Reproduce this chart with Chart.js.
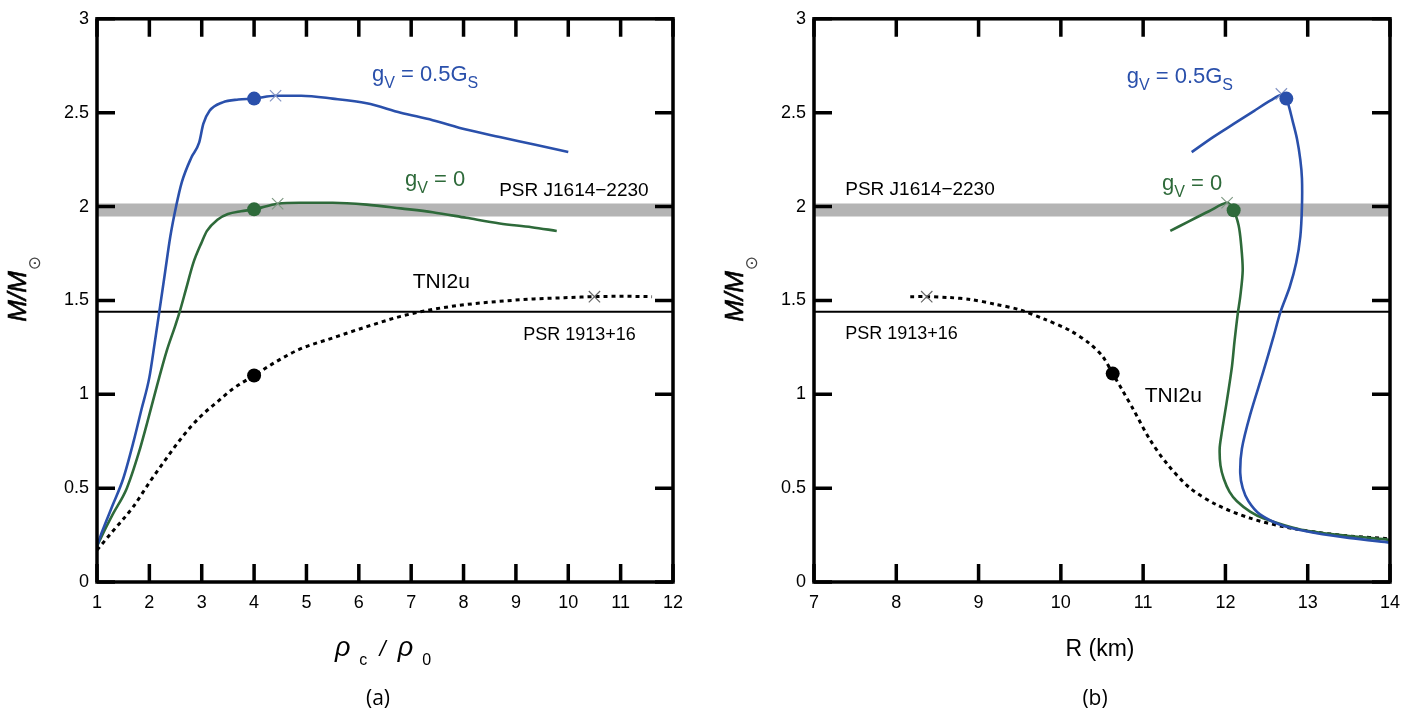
<!DOCTYPE html>
<html>
<head>
<meta charset="utf-8">
<script src="https://cdn.jsdelivr.net/npm/chart.js@4.4.1/dist/chart.umd.min.js"></script>
<style>
  html, body { margin: 0; padding: 0; background: #fff; overflow: hidden; }
  #wrap { position: relative; width: 1428px; height: 714px; }
  canvas { position: absolute; top: 0; }
  #chartA { left: 0; }
  #chartB { left: 717px; }
</style>
</head>
<body>
<div id="wrap">
  <canvas id="chartA" width="711" height="714"></canvas>
  <canvas id="chartB" width="711" height="714"></canvas>
</div>
<script>
// ---- panel (a): M vs central density rho_c / rho_0 ----
const rhoBlue   = [1.0, 1.1, 1.3, 1.5, 1.7, 1.85, 2.0, 2.1, 2.19, 2.3, 2.4, 2.51, 2.62, 2.8, 2.95, 3.03, 3.15, 3.4, 3.7, 4.0, 4.41, 4.9, 5.5, 6.15, 6.8, 7.41, 8.05, 8.69, 9.35, 10.0];
const massBlueA = [0.19, 0.27, 0.41, 0.55, 0.75, 0.92, 1.09, 1.27, 1.44, 1.65, 1.84, 2.0, 2.13, 2.26, 2.34, 2.44, 2.51, 2.555, 2.57, 2.575, 2.59, 2.59, 2.575, 2.55, 2.5, 2.46, 2.41, 2.37, 2.33, 2.29];

const rhoGreen   = [1.0, 1.1, 1.3, 1.57, 1.8, 1.95, 2.15, 2.33, 2.5, 2.58, 2.7, 2.84, 3.0, 3.1, 3.3, 3.5, 3.75, 4.0, 4.45, 4.87, 5.5, 6.15, 6.8, 7.41, 8.05, 8.69, 9.3, 9.78];
const massGreenA = [0.19, 0.25, 0.36, 0.5, 0.69, 0.84, 1.05, 1.23, 1.37, 1.44, 1.56, 1.7, 1.81, 1.87, 1.93, 1.96, 1.975, 1.985, 2.015, 2.02, 2.02, 2.01, 1.99, 1.97, 1.94, 1.91, 1.89, 1.87];

const rhoBlack   = [1.0, 1.3, 1.69, 2.0, 2.33, 2.65, 2.97, 3.3, 3.6, 4.0, 4.4, 4.87, 5.5, 6.15, 6.8, 7.41, 8.05, 8.69, 9.35, 10.0, 10.5, 11.0, 11.6];
const massBlackA = [0.17, 0.27, 0.4, 0.53, 0.66, 0.78, 0.88, 0.96, 1.03, 1.1, 1.17, 1.24, 1.3, 1.36, 1.415, 1.452, 1.478, 1.495, 1.508, 1.515, 1.52, 1.522, 1.52];

// ---- panel (b): M vs radius R (km) ----
const radBlue   = [11.59, 11.85, 12.1, 12.35, 12.55, 12.68, 12.74, 12.82, 12.87, 12.91, 12.93, 12.93, 12.91, 12.86, 12.78, 12.67, 12.58, 12.46, 12.3, 12.2, 12.18, 12.21, 12.28, 12.42, 12.7, 13.11, 13.5, 14.0];
const massBlueB = [2.29, 2.37, 2.44, 2.51, 2.565, 2.595, 2.575, 2.45, 2.36, 2.25, 2.15, 2.0, 1.84, 1.7, 1.57, 1.44, 1.3, 1.12, 0.89, 0.71, 0.58, 0.5, 0.43, 0.36, 0.3, 0.26, 0.235, 0.21];

const radGreen   = [11.33, 11.55, 11.8, 12.02, 12.1, 12.16, 12.19, 12.21, 12.18, 12.15, 12.11, 12.08, 12.03, 11.99, 11.95, 11.93, 11.94, 11.98, 12.05, 12.14, 12.3, 12.46, 12.91, 13.4, 14.0];
const massGreenB = [1.87, 1.92, 1.975, 2.02, 1.98, 1.9, 1.8, 1.66, 1.52, 1.43, 1.28, 1.15, 1.0, 0.89, 0.78, 0.71, 0.62, 0.55, 0.48, 0.43, 0.375, 0.34, 0.28, 0.25, 0.225];

const radBlack   = [8.17, 8.37, 8.65, 8.9, 9.2, 9.5, 9.8, 10.11, 10.35, 10.51, 10.63, 10.75, 10.88, 11.08, 11.29, 11.57, 11.9, 12.3, 12.7, 13.11, 13.5, 14.0];
const massBlackB = [1.52, 1.52, 1.515, 1.505, 1.48, 1.45, 1.4, 1.34, 1.27, 1.2, 1.11, 1.02, 0.92, 0.76, 0.63, 0.5, 0.41, 0.34, 0.295, 0.265, 0.245, 0.23];

// marked points: [blue, green, black]  (dot = rho_c = 4 rho_0, cross = maximum)
const dotsA    = [[4.0, 2.575], [4.0, 1.985], [4.0, 1.1]];
const crossesA = [[4.41, 2.59], [4.45, 2.015], [10.5, 1.52]];
const dotsB    = [[12.74, 2.575], [12.1, 1.98], [10.63, 1.11]];
const crossesB = [[12.68, 2.6], [12.02, 2.02], [8.37, 1.52]];

// observational constraints
const psrJ1614Band = [1.947, 2.016];
const psr1913Mass = 1.44;

// axis ranges / ticks
const rhoRange = [1, 12];
const radRange = [7, 14];
const massRange = [0, 3];
const massStep = 0.5;

const BLUE = '#2a50ab';
const GREEN = '#2e6a3a';
const FONT = '"Liberation Sans", Arial, sans-serif';

const GV_HALF = [['g'], ['V', 'sub'], [' = 0.5G'], ['S', 'sub']];
const GV_ZERO = [['g'], ['V', 'sub'], [' = 0']];

const labelsA = [
  { x: 6.25, y: 2.71, size: 22, color: BLUE, parts: GV_HALF },
  { x: 6.88, y: 2.15, size: 22, color: GREEN, parts: GV_ZERO },
  { x: 8.68, y: 2.09, size: 19, color: '#000', parts: [['PSR J1614\u22122230']] },
  { x: 7.03, y: 1.605, size: 21, color: '#000', parts: [['TNI2u']] },
  { x: 9.14, y: 1.326, size: 18, color: '#000', parts: [['PSR 1913+16']] }
];
const labelsB = [
  { x: 10.80, y: 2.70, size: 22, color: BLUE, parts: GV_HALF },
  { x: 11.23, y: 2.13, size: 22, color: GREEN, parts: GV_ZERO },
  { x: 7.38, y: 2.10, size: 19, color: '#000', parts: [['PSR J1614\u22122230']] },
  { x: 7.38, y: 1.33, size: 18, color: '#000', parts: [['PSR 1913+16']] },
  { x: 11.02, y: 1.0, size: 21, color: '#000', parts: [['TNI2u']] }
];

function zip(xs, ys) {
  return xs.map((x, i) => ({ x: x, y: ys[i] }));
}

function drawRich(ctx, parts, x, y, size, color) {
  let cx = x;
  ctx.fillStyle = color;
  ctx.textBaseline = 'alphabetic';
  ctx.textAlign = 'left';
  parts.forEach(p => {
    const sub = p[1] === 'sub';
    const fs = sub ? Math.round(size * 0.72) : size;
    ctx.font = fs + 'px ' + FONT;
    ctx.fillText(p[0], cx, y + (sub ? size * 0.3 : 0));
    cx += ctx.measureText(p[0]).width;
  });
}

// inward ticks on all four sides plus a heavy frame
const frameTicks = {
  id: 'frameTicks',
  afterDatasetsDraw(chart) {
    const { ctx, chartArea: a, scales: { x, y } } = chart;
    const len = 18;
    ctx.save();
    ctx.strokeStyle = '#000';
    ctx.lineWidth = 3.5;
    ctx.beginPath();
    x.ticks.forEach(t => {
      const px = x.getPixelForValue(t.value);
      ctx.moveTo(px, a.bottom); ctx.lineTo(px, a.bottom - len);
      ctx.moveTo(px, a.top); ctx.lineTo(px, a.top + len);
    });
    y.ticks.forEach(t => {
      const py = y.getPixelForValue(t.value);
      ctx.moveTo(a.left, py); ctx.lineTo(a.left + len, py);
      ctx.moveTo(a.right, py); ctx.lineTo(a.right - len, py);
    });
    ctx.stroke();
    ctx.strokeRect(a.left, a.top, a.right - a.left, a.bottom - a.top);
    ctx.restore();
  }
};

// curve labels, axis titles and panel letter
const notes = {
  id: 'notes',
  afterDraw(chart, args, opts) {
    const { ctx, chartArea: a, scales: { x, y } } = chart;
    ctx.save();
    opts.labels.forEach(l => {
      const px = x.getPixelForValue(l.x);
      const py = y.getPixelForValue(l.y) + l.size * 0.36;
      drawRich(ctx, l.parts, px, py, l.size, l.color);
    });

    // y title  M/M(sun), rotated
    ctx.font = 'italic 26px ' + FONT;
    const w = ctx.measureText('M/M').width;
    const midY = (a.top + a.bottom) / 2 - 4;
    ctx.translate(a.left - 71, midY + w / 2);
    ctx.rotate(-Math.PI / 2);
    ctx.fillStyle = '#000';
    ctx.textBaseline = 'alphabetic';
    ctx.textAlign = 'left';
    ctx.lineWidth = 0.6;
    ctx.strokeStyle = '#000';
    ctx.fillText('M/M', 0, 0);
    ctx.strokeText('M/M', 0, 0);
    ctx.font = '17px "DejaVu Sans"';
    ctx.fillStyle = '#444';
    ctx.fillText('\u2299', w + 1, 14);
    ctx.setTransform(1, 0, 0, 1, 0, 0);

    // x title
    const cx = (a.left + a.right) / 2 + opts.titleShift;
    let tw = 0;
    opts.xTitle.forEach(p => { ctx.font = p[1]; tw += ctx.measureText(p[0]).width; });
    let tx = cx - tw / 2;
    ctx.fillStyle = '#000';
    opts.xTitle.forEach(p => {
      ctx.font = p[1];
      ctx.fillText(p[0], tx, 656 + (p[2] || 0));
      tx += ctx.measureText(p[0]).width;
    });

    // panel letter
    ctx.font = '21px "Open Sans", ' + FONT;
    ctx.textAlign = 'center';
    ctx.fillText(opts.panel, cx - 5, 705);
    ctx.restore();
  }
};

function curve(data, color, dash, mono) {
  return {
    data: data, showLine: true, borderColor: color, borderWidth: dash ? 3 : 2.6,
    borderDash: dash ? [4, 4] : [], pointRadius: 0, fill: false, order: 5,
    tension: 0.3, cubicInterpolationMode: mono ? 'monotone' : 'default'
  };
}
function marks(pts, style) {
  const colors = style === 'dot' ? [BLUE, GREEN, '#000'] : ['#8494c4', '#7f9a84', '#666'];
  return {
    data: pts.map(p => ({ x: p[0], y: p[1] })),
    showLine: false,
    pointStyle: style === 'dot' ? 'circle' : 'crossRot',
    pointRadius: style === 'dot' ? 7 : 8,
    pointBorderWidth: style === 'dot' ? 0 : 1.2,
    pointBackgroundColor: colors,
    pointBorderColor: colors,
    order: style === 'dot' ? 1 : 2
  };
}
function constraints(xr) {
  return [
    { data: [{ x: xr[0], y: psrJ1614Band[0] }, { x: xr[1], y: psrJ1614Band[0] }], showLine: true,
      borderWidth: 0, borderColor: 'rgba(0,0,0,0)', pointRadius: 0, fill: false, order: 11 },
    { data: [{ x: xr[0], y: psrJ1614Band[1] }, { x: xr[1], y: psrJ1614Band[1] }], showLine: true,
      borderWidth: 0, borderColor: 'rgba(0,0,0,0)', pointRadius: 0, fill: '-1', backgroundColor: '#b4b4b4', order: 10 },
    { data: [{ x: xr[0], y: psr1913Mass }, { x: xr[1], y: psr1913Mass }], showLine: true,
      borderWidth: 2, borderColor: '#000', pointRadius: 0, fill: false, order: 9 }
  ];
}

function makeChart(id, xr, datasets, noteOpts) {
  return new Chart(document.getElementById(id), {
    type: 'scatter',
    data: { datasets: datasets },
    options: {
      responsive: false,
      animation: false,
      devicePixelRatio: 1,
      events: [],
      layout: { padding: { top: 12, right: 38, left: 0, bottom: 0 } },
      scales: {
        x: {
          type: 'linear', min: xr[0], max: xr[1],
          grid: { display: false, drawTicks: false },
          border: { display: false },
          ticks: { stepSize: 1, padding: 10, color: '#000', font: { family: FONT, size: 18 } },
          afterFit(s) { s.height = 132; }
        },
        y: {
          type: 'linear', min: massRange[0], max: massRange[1],
          grid: { display: false, drawTicks: false },
          border: { display: false },
          ticks: {
            stepSize: massStep, padding: 8, color: '#000', font: { family: FONT, size: 18 },
            callback: v => String(v)
          },
          afterFit(s) { s.width = 97; }
        }
      },
      plugins: {
        legend: { display: false },
        tooltip: { enabled: false },
        notes: noteOpts
      }
    },
    plugins: [frameTicks, notes]
  });
}

const RHO_TITLE = [
  ['\u03C1', 'italic 27px ' + FONT],
  ['  c', '16px ' + FONT, 9],
  ['  /  ', 'italic 22px ' + FONT],
  ['\u03C1', 'italic 27px ' + FONT],
  ['  0', '16px ' + FONT, 9]
];
const R_TITLE = [['R (km)', '23px ' + FONT]];

makeChart('chartA', rhoRange, [
  ...constraints(rhoRange),
  curve(zip(rhoBlue, massBlueA), BLUE, false, true),
  curve(zip(rhoGreen, massGreenA), GREEN, false, true),
  curve(zip(rhoBlack, massBlackA), '#000', true, true),
  marks(dotsA, 'dot'),
  marks(crossesA, 'cross')
], { labels: labelsA, xTitle: RHO_TITLE, titleShift: -2, panel: '(a)' });

makeChart('chartB', radRange, [
  ...constraints(radRange),
  curve(zip(radBlue, massBlueB), BLUE),
  curve(zip(radGreen, massGreenB), GREEN),
  curve(zip(radBlack, massBlackB), '#000', true),
  marks(dotsB, 'dot'),
  marks(crossesB, 'cross')
], { labels: labelsB, xTitle: R_TITLE, titleShift: -2, panel: '(b)' });
</script>
</body>
</html>
